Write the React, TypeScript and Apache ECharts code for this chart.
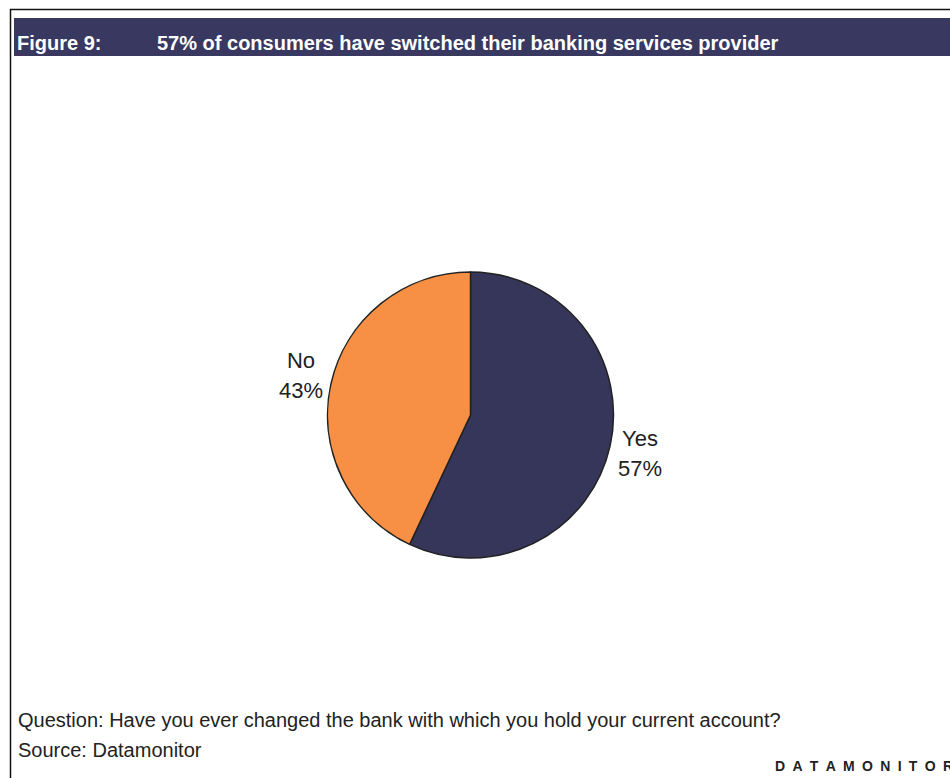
import React, { useEffect, useRef } from "react";
import * as echarts from "echarts";

const figureLabel = "Figure 9:";
const titleText = "57% of consumers have switched their banking services provider";
const categories = ["Yes", "No"];
const values = [57, 43];
const sliceColors = ["#35365a", "#f79044"];
const questionText = "Question: Have you ever changed the bank with which you hold your current account?";
const sourceText = "Source: Datamonitor";
const brandText = "DATAMONITOR";

const FONT = "'Liberation Sans', Arial, Helvetica, sans-serif";

export default function App() {
  const ref = useRef<HTMLDivElement>(null);
  useEffect(() => {
    document.body.style.margin = "0";
    const chart = echarts.init(ref.current!, null, { renderer: "svg" });
    const brandFont = `bold 14px ${FONT}`;
    const ctx = document.createElement("canvas").getContext("2d")!;
    ctx.font = brandFont;
    let bx = 0;
    const brandLetters = brandText.split("").map((ch) => {
      const el = {
        type: "text",
        x: bx,
        y: 0,
        style: { text: ch, font: brandFont, fill: "#222", textVerticalAlign: "middle" },
      };
      bx += ctx.measureText(ch).width + 7.3;
      return el;
    });
    const labelPads: Record<string, number[]> = { Yes: [14, 0, 0, 0], No: [0, 0, 16, 0] };
    chart.setOption({
      animation: false,
      backgroundColor: "#ffffff",
      graphic: [
        {
          type: "rect",
          shape: { x: 10.5, y: 9.5, width: 1000, height: 900 },
          style: { fill: "none", stroke: "#111", lineWidth: 1.5 },
          silent: true,
        },
        {
          type: "rect",
          shape: { x: 14, y: 18, width: 940, height: 38 },
          style: { fill: "#383860" },
          silent: true,
        },
        {
          type: "text",
          x: 17,
          y: 43,
          style: { text: figureLabel, font: `bold 20px ${FONT}`, fill: "#ffffff", textVerticalAlign: "middle" },
        },
        {
          type: "text",
          x: 157,
          y: 43,
          style: { text: titleText, font: `bold 20px ${FONT}`, fill: "#ffffff", textVerticalAlign: "middle" },
        },
        {
          type: "text",
          x: 18,
          y: 720,
          style: { text: questionText, font: `20px ${FONT}`, fill: "#222", textVerticalAlign: "middle" },
        },
        {
          type: "text",
          x: 18,
          y: 750,
          style: { text: sourceText, font: `20px ${FONT}`, fill: "#222", textVerticalAlign: "middle" },
        },
        { type: "group", x: 775, y: 766, children: brandLetters },
      ],
      series: [
        {
          type: "pie",
          center: [470.5, 415],
          radius: [0, 143],
          startAngle: 90,
          clockwise: true,
          avoidLabelOverlap: false,
          data: categories.map((c, i) => ({
            name: c,
            value: values[i],
            itemStyle: { color: sliceColors[i] },
            label: { padding: labelPads[c] },
          })),
          itemStyle: { borderColor: "#222", borderWidth: 1.5 },
          label: {
            show: true,
            position: "outside",
            distanceToLabelLine: 5,
            formatter: (p: any) => `{t|${p.name}}\n{t|${p.value}%}`,
            rich: {
              t: {
                fontFamily: FONT,
                fontSize: 22,
                lineHeight: 30,
                width: 46,
                align: "center",
                color: "#222",
              },
            },
          },
          labelLine: { show: false, length: 2, length2: 0 },
          emphasis: { disabled: true },
        },
      ],
    });
    return () => chart.dispose();
  }, []);
  return <div ref={ref} style={{ width: 950, height: 778 }} />;
}
